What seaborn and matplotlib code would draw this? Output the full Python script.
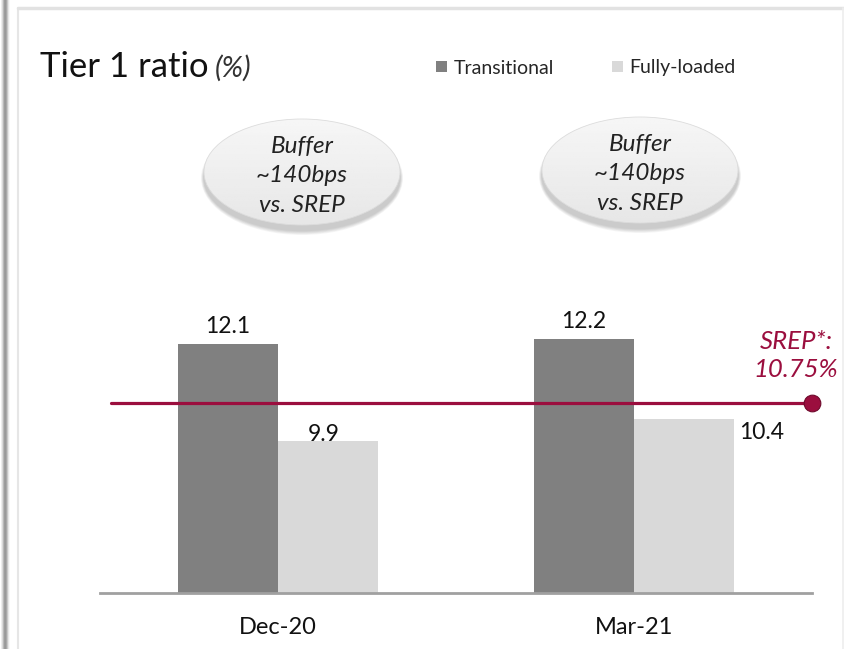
import numpy as np
import pandas as pd
import matplotlib
matplotlib.use("Agg")
import matplotlib.pyplot as plt
from matplotlib.patches import Ellipse, Patch
import seaborn as sns

# ---- data ----
periods = ["Dec-20", "Mar-21"]
series_names = ["Transitional", "Fully-loaded"]
transitional = [12.1, 12.2]
fully_loaded = [9.9, 10.4]
srep_value = 10.75
bubble_text = ["Buffer\n~140bps\nvs. SREP", "Buffer\n~140bps\nvs. SREP"]
title_main = "Tier 1 ratio"
title_unit = "(%)"

colors = ["#808080", "#d9d9d9"]
srep_color = "#9b0e3e"

df = pd.DataFrame({
    "period": periods * 2,
    "type": [series_names[0]] * 2 + [series_names[1]] * 2,
    "value": transitional + fully_loaded,
})

sns.set_theme(style="white")
plt.rcParams["font.family"] = ["Lato", "DejaVu Sans"]

W, H = 845, 649
fig = plt.figure(figsize=(W / 100, H / 100), dpi=100)

# overlay axes in pixel coordinates for decoration
ax0 = fig.add_axes([0, 0, 1, 1], zorder=0)
ax0.set_xlim(0, W)
ax0.set_ylim(H, 0)
ax0.axis("off")

# left shadow strip
grad = np.array([[0.93, 0.85, 0.72, 0.62, 0.6, 0.66, 0.78, 0.9, 0.97]])
ax0.imshow(grad, cmap="gray", vmin=0, vmax=1, extent=(1, 10, H, 0), aspect="auto", interpolation="bilinear")
ax0.plot([18, 18], [8, H], color="#e6e6e6", lw=1.5)
ax0.plot([18, W], [8, 8], color="#e2e2e2", lw=2.5)
ax0.plot([843, 843], [8, H], color="#eeeeee", lw=1.2)

# title
t1 = ax0.text(40, 77, title_main, fontsize=25, va="baseline", ha="left", color="#111111")
fig.canvas.draw()
bb = t1.get_window_extent()
ax0.text(bb.x1 + 6, 77, title_unit, fontsize=21, va="baseline", ha="left", style="italic",
         fontweight="normal", color="#333333")

# bubbles
bubble_centers = [(302, 172), (640, 170)]
for (cx, cy), txt in zip(bubble_centers, bubble_text):
    for k in range(6):
        sh = Ellipse((cx, cy + 6), 196 + 6 - k, 106 + 8 - k * 1.5, facecolor="#000000",
                     edgecolor="none", alpha=0.035)
        ax0.add_patch(sh)
    el = Ellipse((cx, cy), 196, 106, facecolor="none", edgecolor="#dcdcdc", lw=0.6, zorder=3)
    ax0.add_patch(el)
    g = np.linspace(0.965, 0.905, 50).reshape(-1, 1)
    im = ax0.imshow(g, cmap="gray", vmin=0, vmax=1, extent=(cx - 98, cx + 98, cy + 53, cy - 53),
                    aspect="auto", interpolation="bilinear", zorder=2)
    im.set_clip_path(el)
    ax0.text(cx, cy + 4, txt, fontsize=17.5, style="italic", ha="center", va="center",
             linespacing=1.5, color="#222222", zorder=4)

ax0.set_xlim(0, W)
ax0.set_ylim(H, 0)

# main axes
left_px, right_px, bottom_px, top_px = 100, 812, 592.5, 100
ax = fig.add_axes([left_px / W, 1 - bottom_px / H, (right_px - left_px) / W, (bottom_px - top_px) / H],
                  zorder=1)
ax.patch.set_visible(False)

sns.barplot(data=df, x="period", y="value", hue="type", palette=colors, width=0.56,
            errorbar=None, linewidth=0, legend=False, ax=ax, zorder=2)

ymin = 6.49
ax.set_ylim(ymin, ymin + (bottom_px - top_px) / 44.37)
ax.set_xlim(-0.5, 1.5)
for s in ["top", "right", "left"]:
    ax.spines[s].set_visible(False)
ax.spines["bottom"].set_color("#a0a0a0")
ax.spines["bottom"].set_linewidth(2)
ax.set_yticks([])
ax.set_xlabel("")
ax.set_ylabel("")
ax.tick_params(axis="x", length=0, pad=18, labelsize=17, labelcolor="#111111")

# value labels
for ci, cont in enumerate(ax.containers):
    for bar in cont:
        xc = bar.get_x() + bar.get_width() / 2
        v = bar.get_height()
        if v > srep_value:
            ax.annotate(f"{v:.1f}", xy=(xc, v), xytext=(0, 11), textcoords="offset pixels",
                        ha="center", va="baseline", fontsize=16.5, color="#111111", zorder=1)
        elif v < srep_value - 0.5:
            ax.annotate(f"{v:.1f}", xy=(xc, v), xytext=(-4, 0), textcoords="offset pixels",
                        ha="center", va="baseline", fontsize=16.5, color="#111111", zorder=1)
        else:
            ax.annotate(f"{v:.1f}", xy=(bar.get_x() + bar.get_width(), v), xytext=(5, -20),
                        textcoords="offset pixels", ha="left", va="baseline", fontsize=16.5,
                        color="#111111")

# SREP line
ax.plot([-0.47, 1.5], [srep_value, srep_value], color=srep_color, lw=2.3, zorder=4, clip_on=False)
ax.plot([1.5], [srep_value], marker="o", markersize=12, color=srep_color,
        markeredgecolor="#6e0a2c", markeredgewidth=0.8, zorder=5, clip_on=False)
ax.annotate(f"SREP*:\n{srep_value:.2f}%", xy=(1.5, srep_value), xytext=(-16, 22),
            textcoords="offset pixels", ha="center", va="bottom", fontsize=18.5, style="italic",
            color=srep_color, linespacing=1.3)

# legend
handles = [Patch(facecolor=c, edgecolor="none") for c in colors]
fig.legend(handles, series_names, loc="center left", bbox_to_anchor=(436 / W, 1 - 68 / H),
           ncol=2, frameon=False, fontsize=14, handlelength=0.55, handleheight=0.55,
           handletextpad=0.35, columnspacing=3.0, borderpad=0, borderaxespad=0)

fig.savefig("out.png", dpi=100)
